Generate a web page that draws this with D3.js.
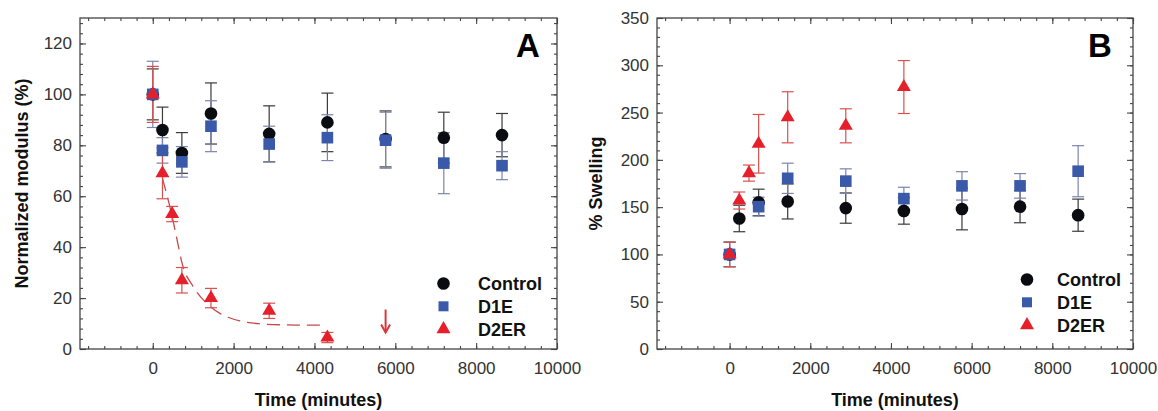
<!DOCTYPE html>
<html>
<head>
<meta charset="utf-8">
<script src="https://cdn.jsdelivr.net/npm/d3@7"></script>
<style>
  body { margin: 0; background: #fff; }
  svg { display: block; font-family: "Liberation Sans", Arial, sans-serif; }
</style>
</head>
<body>
<div id="chart"></div>
<script>
// ---- data ----
const times = [0, 240, 720, 1440, 2880, 4320, 5760, 7200, 8640];
const d2erTimes = [0, 240, 480, 720, 1440, 2880, 4320];
const d1eTimesB = [0, 720, 1440, 2880, 4320, 5760, 7200, 8640];

// panel A: normalized modulus (%)
const controlA = [100, 86, 77, 92.5, 84.5, 89, 82.5, 83, 84];
const controlAErr = [10, 9, 8, 12, 11, 11.5, 11, 10, 8.5];
const d1eA = [100, 78, 73.5, 87.5, 80.5, 83, 82, 73, 72];
const d1eAErr = [13, 5, 6, 10, 7, 9, 11, 12, 5.5];
const d2erA = [100, 69, 53, 27, 20, 15, 4.5];
const d2erAErr = [11, 10, 3, 5, 3.8, 3, 2];

// dashed fit curve through the D2ER points
const fitTimes = [240, 480, 600, 720, 1000, 1330, 1660, 2160, 2650, 3200, 3700, 4250];
const fitValues = [67, 52, 43, 34, 24.5, 18, 14, 11, 9.9, 9.5, 9.4, 9.4];

// arrow marking D2ER at 5760 min
const arrowTime = 5760;
const arrowFrom = 15.5;
const arrowTo = 6.5;

// panel B: % swelling
const controlB = [100, 138, 155, 156, 149, 146, 148, 150.5, 141.5];
const controlBErr = [13, 14, 14, 18.5, 16, 14, 22, 17, 17];
const d1eB = [100, 150.5, 180.5, 177.5, 159, 172.5, 172.5, 188];
const d1eBErr = [13, 10, 16, 13, 12, 15, 13, 27];
const d2erB = [100, 157, 186, 217, 245, 236, 277];
const d2erBErr = [13, 9, 8.5, 31, 27, 18, 28];

const xTicks = [0, 2000, 4000, 6000, 8000, 10000];
const xMinorTicks = d3.range(-1600, 10001, 400);
const yTicksA = [0, 20, 40, 60, 80, 100, 120];
const yTicksB = [0, 50, 100, 150, 200, 250, 300, 350];

const seriesNames = ["Control", "D1E", "D2ER"];

// ---- styles ----
const fills = {Control: "#0b0b12", D1E: "#3a59a8", D2ER: "#e5202a"};
const errColors = {Control: "#3a3a3a", D1E: "#7c84ac", D2ER: "#d9504f"};
const symbols = {Control: d3.symbolCircle, D1E: d3.symbolSquare, D2ER: d3.symbolTriangle};
const sizes = {Control: 125, D1E: 135, D2ER: 85};

const W = 1158, H = 411;
const svg = d3.select("#chart").append("svg")
    .attr("width", W)
    .attr("height", H);

function zip(ts, vs, es) {
    return ts.map((t, i) => ({t: t, v: vs[i], e: es[i]}));
}

function drawPanel(cfg) {
    const x = d3.scaleLinear().domain([-1800, 10000]).range([cfg.left, cfg.right]);
    const y = d3.scaleLinear().domain(cfg.yDomain).range([cfg.bottom, cfg.top]);
    const g = svg.append("g");

    // frame
    g.append("rect")
        .attr("x", cfg.left).attr("y", cfg.top)
        .attr("width", cfg.right - cfg.left).attr("height", cfg.bottom - cfg.top)
        .attr("fill", "none").attr("stroke", "#444").attr("stroke-width", 1.3);

    const tickStyle = sel => {
        sel.select(".domain").remove();
        sel.selectAll(".tick line").attr("stroke", "#444").attr("stroke-width", 1.1);
        sel.selectAll(".tick text").attr("fill", "#333").attr("font-size", 17);
    };

    // x axes, ticks pointing inward
    g.append("g").attr("transform", `translate(0,${cfg.bottom})`)
        .call(d3.axisBottom(x).tickValues(xTicks).tickSize(-6).tickPadding(13).tickFormat(d3.format("d")))
        .call(tickStyle);
    g.append("g").attr("transform", `translate(0,${cfg.bottom})`)
        .call(d3.axisBottom(x).tickValues(xMinorTicks).tickSize(-3).tickFormat(""))
        .call(tickStyle);
    g.append("g").attr("transform", `translate(0,${cfg.top})`)
        .call(d3.axisTop(x).tickValues(xTicks).tickSize(-6).tickFormat(""))
        .call(tickStyle);
    g.append("g").attr("transform", `translate(0,${cfg.top})`)
        .call(d3.axisTop(x).tickValues(xMinorTicks).tickSize(-3).tickFormat(""))
        .call(tickStyle);

    // y axes
    g.append("g").attr("transform", `translate(${cfg.left},0)`)
        .call(d3.axisLeft(y).tickValues(cfg.yTicks).tickSize(-6).tickPadding(8))
        .call(tickStyle);
    g.append("g").attr("transform", `translate(${cfg.left},0)`)
        .call(d3.axisLeft(y).tickValues(cfg.yMinor).tickSize(-3).tickFormat(""))
        .call(tickStyle);
    g.append("g").attr("transform", `translate(${cfg.right},0)`)
        .call(d3.axisRight(y).tickValues(cfg.yTicks).tickSize(-6).tickFormat(""))
        .call(tickStyle);
    g.append("g").attr("transform", `translate(${cfg.right},0)`)
        .call(d3.axisRight(y).tickValues(cfg.yMinor).tickSize(-3).tickFormat(""))
        .call(tickStyle);

    // axis titles
    g.append("text")
        .attr("x", (cfg.left + cfg.right) / 2).attr("y", 406)
        .attr("text-anchor", "middle")
        .attr("font-size", 18).attr("font-weight", "bold").attr("fill", "#111")
        .text("Time (minutes)");
    g.append("text")
        .attr("transform", `translate(${cfg.yTitleX},${(cfg.top + cfg.bottom) / 2}) rotate(-90)`)
        .attr("text-anchor", "middle")
        .attr("font-size", 18).attr("font-weight", "bold").attr("fill", "#111")
        .text(cfg.yTitle);

    // panel letter
    g.append("text")
        .attr("x", cfg.letterX).attr("y", 57)
        .attr("text-anchor", "middle")
        .attr("font-size", 33).attr("font-weight", "bold").attr("fill", "#000")
        .text(cfg.letter);

    if (cfg.extra) cfg.extra(g, x, y);

    // error bars first, markers on top
    const cap = 6;
    cfg.series.forEach(s => {
        const eb = g.append("g").attr("stroke", errColors[s.name]).attr("stroke-width", 1.2);
        const pts = eb.selectAll("g").data(s.points).enter().append("g");
        pts.append("line")
            .attr("x1", d => x(d.t)).attr("x2", d => x(d.t))
            .attr("y1", d => y(d.v - d.e)).attr("y2", d => y(d.v + d.e));
        pts.append("line")
            .attr("x1", d => x(d.t) - cap).attr("x2", d => x(d.t) + cap)
            .attr("y1", d => y(d.v + d.e)).attr("y2", d => y(d.v + d.e));
        pts.append("line")
            .attr("x1", d => x(d.t) - cap).attr("x2", d => x(d.t) + cap)
            .attr("y1", d => y(d.v - d.e)).attr("y2", d => y(d.v - d.e));
    });
    cfg.series.forEach(s => {
        g.append("g").selectAll("path").data(s.points).enter().append("path")
            .attr("transform", d => `translate(${x(d.t)},${y(d.v)})`)
            .attr("d", d3.symbol().type(symbols[s.name]).size(sizes[s.name]))
            .attr("fill", fills[s.name]);
    });

    // legend
    const legend = g.append("g")
        .selectAll("g")
        .data(seriesNames)
        .enter().append("g")
        .attr("transform", (d, i) => `translate(${cfg.legendX},${cfg.legendY + i * 22.8})`);
    legend.append("path")
        .attr("d", d => d3.symbol().type(symbols[d]).size(d === "D1E" ? 100 : d === "D2ER" ? 85 : 125)())
        .attr("fill", d => fills[d]);
    legend.append("text")
        .attr("x", cfg.legendTextDx)
        .attr("dy", "0.36em")
        .attr("font-size", 18).attr("font-weight", "bold").attr("fill", "#111")
        .text(d => d);
}

drawPanel({
    left: 80, right: 557, top: 18, bottom: 349,
    yDomain: [0, 130], yTicks: yTicksA, yMinor: d3.range(0, 129, 4),
    yTitle: "Normalized modulus (%)", yTitleX: 28,
    letter: "A", letterX: 528,
    legendX: 443.5, legendY: 283.5, legendTextDx: 34.5,
    series: [
        {name: "Control", points: zip(times, controlA, controlAErr)},
        {name: "D1E", points: zip(times, d1eA, d1eAErr)},
        {name: "D2ER", points: zip(d2erTimes, d2erA, d2erAErr)}
    ],
    extra: (g, x, y) => {
        const fit = fitTimes.map((t, i) => [t, fitValues[i]]);
        g.append("path")
            .datum(fit)
            .attr("d", d3.line().x(d => x(d[0])).y(d => y(d[1])).curve(d3.curveMonotoneX))
            .attr("fill", "none")
            .attr("stroke", "#c8474a")
            .attr("stroke-width", 1.3)
            .attr("stroke-dasharray", "13,7");
        const ax = x(arrowTime), y0 = y(arrowFrom), y1 = y(arrowTo);
        const arrow = g.append("g").attr("stroke", "#d8383b").attr("stroke-width", 2).attr("fill", "none");
        arrow.append("line").attr("x1", ax).attr("x2", ax).attr("y1", y0).attr("y2", y1);
        arrow.append("path").attr("d", `M${ax - 4.5},${y1 - 8}L${ax},${y1}L${ax + 4.5},${y1 - 8}`);
    }
});

drawPanel({
    left: 657, right: 1133, top: 18, bottom: 349,
    yDomain: [0, 350], yTicks: yTicksB, yMinor: d3.range(0, 351, 10),
    yTitle: "% Swelling", yTitleX: 602,
    letter: "B", letterX: 1100,
    legendX: 1027, legendY: 279.5, legendTextDx: 30,
    series: [
        {name: "Control", points: zip(times, controlB, controlBErr)},
        {name: "D1E", points: zip(d1eTimesB, d1eB, d1eBErr)},
        {name: "D2ER", points: zip(d2erTimes, d2erB, d2erBErr)}
    ]
});
</script>
</body>
</html>
